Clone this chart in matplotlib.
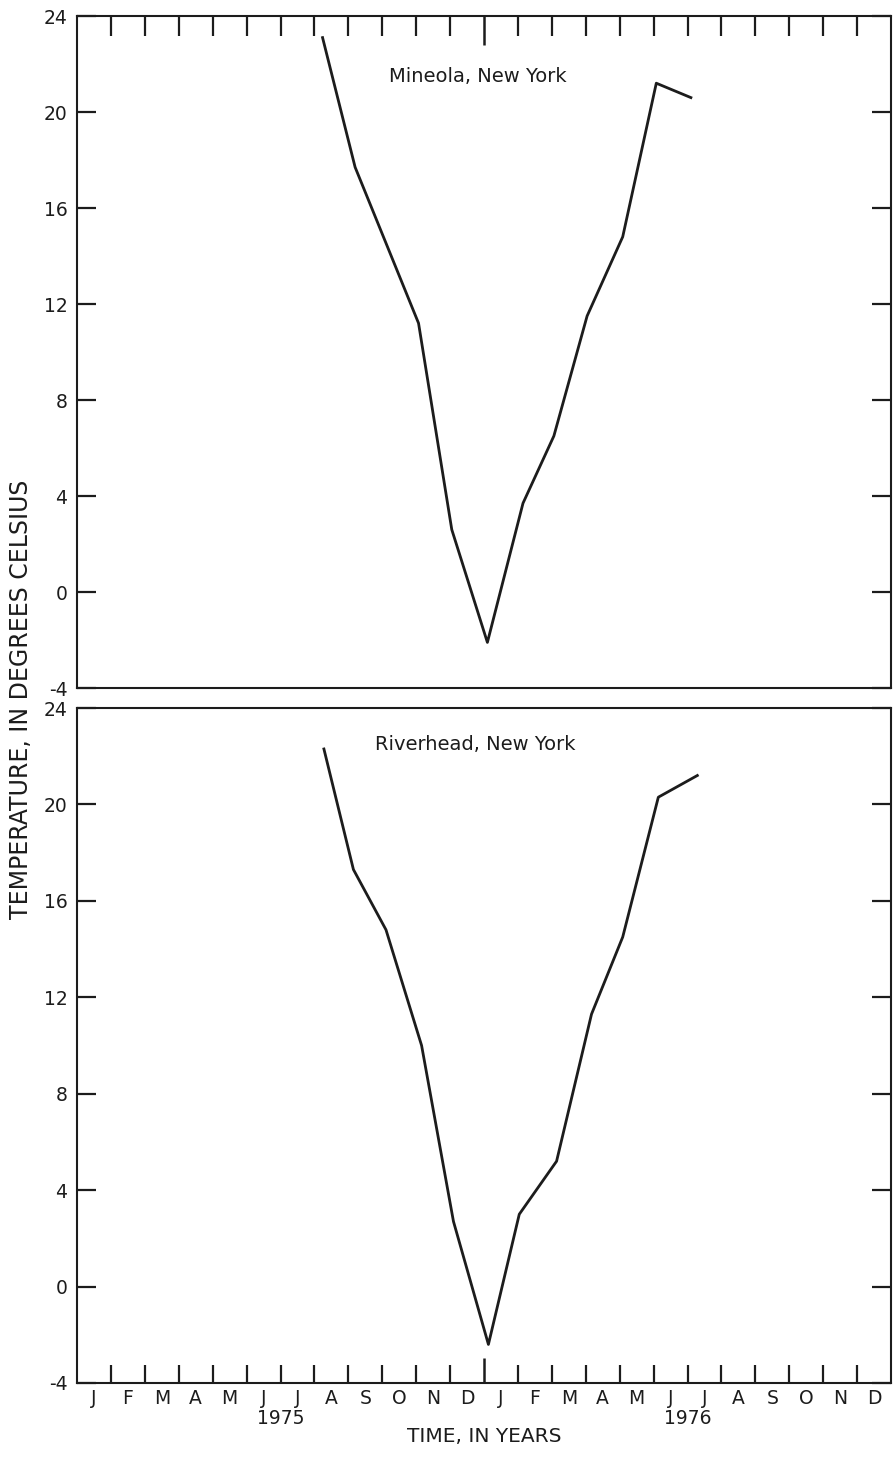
import matplotlib
matplotlib.use("Agg")
import matplotlib.pyplot as plt
from matplotlib.transforms import blended_transform_factory

# ---- data (months counted from 1 Jan 1975) ----
month_labels = ["J", "F", "M", "A", "M", "J", "J", "A", "S", "O", "N", "D"] * 2
year_labels = ["1975", "1976"]
year_pos = [6, 18]

mineola_t = [7.24, 8.20, 10.07, 11.05, 12.10, 13.15, 14.06, 15.04, 16.09, 17.08, 18.10]
mineola_temp = [23.1, 17.7, 11.2, 2.6, -2.1, 3.7, 6.5, 11.5, 14.8, 21.2, 20.6]

riverhead_t = [7.28, 8.15, 9.11, 10.16, 11.10, 12.13, 13.04, 14.14, 15.17, 16.09, 17.14, 18.29]
riverhead_temp = [22.3, 17.3, 14.8, 10.0, 2.7, -2.4, 3.0, 5.2, 11.3, 14.5, 20.3, 21.2]

yticks = list(range(-4, 25, 4))

ink = "#1c1c1c"
plt.rcParams["font.family"] = ["DejaVu Sans"]
plt.rcParams["axes.unicode_minus"] = False

W, H = 894, 1457
fig = plt.figure(figsize=(W / 100, H / 100), dpi=100)


def box(l, t, r, b):
    return [l / W, 1 - b / H, (r - l) / W, (b - t) / H]


ax1 = fig.add_axes(box(77, 16, 891, 688))
ax2 = fig.add_axes(box(77, 708, 891, 1383))

panels = [
    (ax1, mineola_t, mineola_temp, "Mineola, New York", 9.2, 21.5),
    (ax2, riverhead_t, riverhead_temp, "Riverhead, New York", 8.8, 22.5),
]

for ax, t, temp, name, lx, ly in panels:
    ax.plot(t, temp, color=ink, lw=2.0)
    ax.set_xlim(0, 24)
    ax.set_ylim(-4, 24)
    ax.set_yticks(yticks)
    ax.set_xticks([12])
    ax.set_xticks([m for m in range(1, 24) if m != 12], minor=True)
    ax.tick_params(axis="y", which="both", direction="in", left=True, right=True,
                   length=13.5, width=1.6, labelsize=13.5, pad=7, colors=ink)
    ax.tick_params(axis="x", which="both", labelbottom=False, labeltop=False, colors=ink)
    for s in ax.spines.values():
        s.set_linewidth(1.5)
        s.set_color(ink)
    ax.text(lx, ly, name, fontsize=14, color=ink, ha="left", va="center")

ax1.tick_params(axis="x", which="both", direction="in", top=True, bottom=False)
ax1.tick_params(axis="x", which="major", length=21, width=1.8)
ax1.tick_params(axis="x", which="minor", length=14.4, width=1.6)

ax2.tick_params(axis="x", which="both", direction="in", top=False, bottom=True)
ax2.tick_params(axis="x", which="major", length=18, width=1.8)
ax2.tick_params(axis="x", which="minor", length=13, width=1.6)

tr = blended_transform_factory(ax2.transData, fig.transFigure)
for i, lab in enumerate(month_labels):
    fig.text(i + 0.5, 1 - 1399 / H, lab, transform=tr, ha="center", va="center",
             fontsize=13.5, color=ink)
for pos, lab in zip(year_pos, year_labels):
    fig.text(pos, 1 - 1419 / H, lab, transform=tr, ha="center", va="center",
             fontsize=13.5, color=ink)
fig.text(12, 1 - 1437 / H, "TIME, IN YEARS", transform=tr, ha="center", va="center",
         fontsize=14.5, color=ink)

fig.text(21 / W, 1 - 699 / H, "TEMPERATURE, IN DEGREES CELSIUS", rotation=90,
         ha="center", va="center", fontsize=17, color=ink)

fig.savefig("out.png", dpi=100)
